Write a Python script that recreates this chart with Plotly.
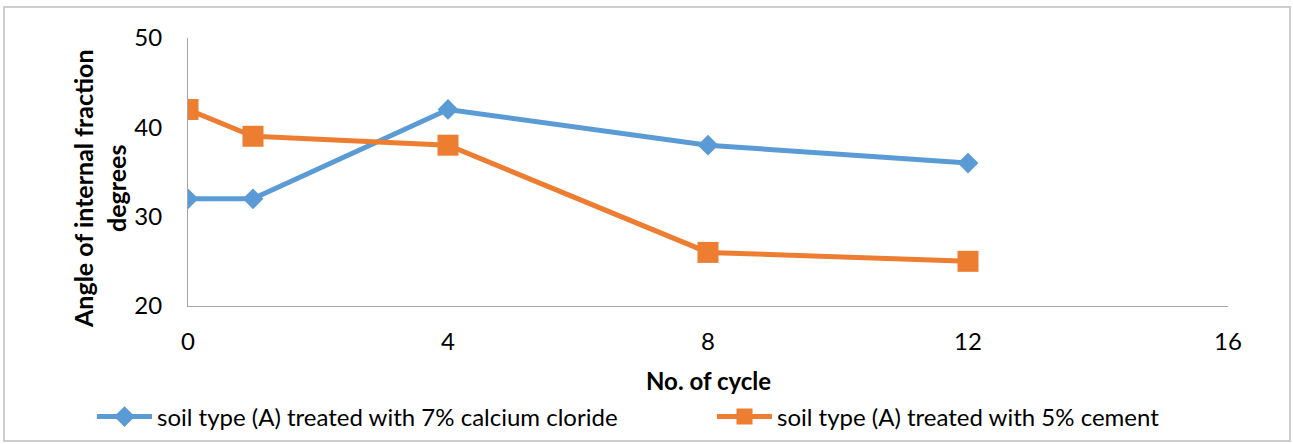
import plotly.graph_objects as go

cycles = [0, 1, 4, 8, 12]
calcium_chloride = [32, 32, 42, 38, 36]
cement = [42, 39, 38, 26, 25]
x_ticks = [0, 4, 8, 12, 16]
y_ticks = [20, 30, 40, 50]

BLUE = "#5B9BD5"
ORANGE = "#ED7D31"
FONT = "Lato, Carlito, 'Open Sans', sans-serif"

L, R, T, B = 188, 65, 38, 138
W, H = 1293, 444
pw, ph = W - L - R, H - T - B

def px(x):
    return (x - L) / pw

def py(y):
    return (H - B - y) / ph

fig = go.Figure()
fig.add_trace(go.Scatter(
    x=cycles, y=calcium_chloride, mode="lines+markers",
    name="soil type (A) treated with 7% calcium cloride",
    line=dict(color=BLUE, width=5),
    marker=dict(symbol="diamond", size=16, color=BLUE),
    legend="legend",
))
fig.add_trace(go.Scatter(
    x=cycles, y=cement, mode="lines+markers",
    name="soil type (A) treated with 5% cement",
    line=dict(color=ORANGE, width=5),
    marker=dict(symbol="square", size=21, color=ORANGE),
    legend="legend2",
))

leg_common = dict(orientation="h", yanchor="middle", xanchor="left",
                  xref="container", yref="container",
                  font=dict(size=24), itemwidth=55, bgcolor="rgba(0,0,0,0)")

fig.update_layout(
    width=W, height=H,
    margin=dict(l=L, r=R, t=T, b=B, autoexpand=False),
    paper_bgcolor="white", plot_bgcolor="white",
    font=dict(family=FONT, size=24, color="black"),
    showlegend=True,
    legend=dict(x=92 / W, y=1 - 417 / H, **leg_common),
    legend2=dict(x=712 / W, y=1 - 417 / H, **leg_common),
    xaxis=dict(
        range=[0, 16], tickvals=x_ticks, showgrid=False, zeroline=False,
        showline=True, linecolor="#A6A6A6", linewidth=1, ticks="",
        ticklabelstandoff=14, tickfont=dict(size=24),
    ),
    yaxis=dict(
        range=[20, 50], tickvals=y_ticks, showgrid=False, zeroline=False,
        showline=True, linecolor="#A6A6A6", linewidth=1, ticks="",
        ticklabelstandoff=20, tickfont=dict(size=24),
    ),
    annotations=[
        dict(text="<b>No. of cycle</b>", xref="paper", yref="paper",
             x=px(708), y=py(380), showarrow=False, font=dict(size=24),
             xanchor="center", yanchor="middle"),
        dict(text="<b>Angle of internal fraction</b><br><b>degrees</b>",
             xref="paper", yref="paper", x=px(99), y=py(189),
             showarrow=False, textangle=-90, font=dict(size=25),
             xanchor="center", yanchor="middle"),
    ],
    shapes=[
        dict(type="rect", xref="paper", yref="paper",
             x0=px(4), x1=px(1290), y0=py(441), y1=py(7),
             line=dict(color="#BFBFBF", width=1.5), layer="below"),
    ],
)

fig.write_html("out.html", config={"displayModeBar": False},
               post_script="document.body.style.margin='0';")
